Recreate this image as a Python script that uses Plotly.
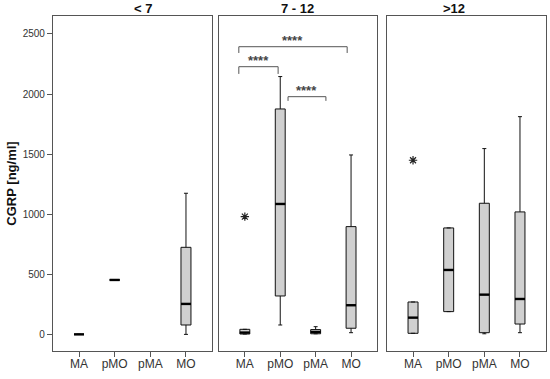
import plotly.graph_objects as go

categories = ["MA", "pMO", "pMA", "MO"]
groups = ["< 7", "7 - 12", ">12"]

# box statistics per age group (None = no data)
g1_q1 = [5, 457, None, 83]
g1_med = [5, 457, None, 258]
g1_q3 = [5, 457, None, 728]
g1_lo = [5, 457, None, 5]
g1_hi = [5, 457, None, 1177]

g2_q1 = [8, 324, 10, 56]
g2_med = [20, 1088, 25, 247]
g2_q3 = [47, 1877, 45, 900]
g2_lo = [8, 83, 10, 19]
g2_hi = [47, 2146, 69, 1495]

g3_q1 = [14, 194, 19, 91]
g3_med = [144, 540, 335, 299]
g3_q3 = [274, 889, 1094, 1022]
g3_lo = [14, 194, 10, 19]
g3_hi = [274, 889, 1548, 1813]

# extreme outliers (group index, category index, value)
out_group = [1, 2]
out_cat = [0, 0]
out_val = [983, 1451]

# significance brackets in group "7 - 12"
br_x0 = [-0.17, -0.17, 1.22]
br_x1 = [2.89, 0.94, 2.29]
br_y = [2394, 2228, 1979]
br_drop = [52, 60, 35]
br_label = ["****", "****", "****"]

stats = [
    (g1_q1, g1_med, g1_q3, g1_lo, g1_hi),
    (g2_q1, g2_med, g2_q3, g2_lo, g2_hi),
    (g3_q1, g3_med, g3_q3, g3_lo, g3_hi),
]

BOXW = 0.28
domains = [[0.0, 0.3225], [0.3367, 0.657], [0.6775, 1.0]]
YR = [-133, 2649]

fig = go.Figure()
for gi, (q1, med, q3, lo, hi) in enumerate(stats):
    xa = "x" if gi == 0 else f"x{gi+1}"
    ya = "y" if gi == 0 else f"y{gi+1}"
    mx, my = [], []
    for ci in range(len(categories)):
        if q1[ci] is None:
            continue
        fig.add_trace(go.Box(
            x=[ci], q1=[q1[ci]], median=[med[ci]], q3=[q3[ci]],
            lowerfence=[lo[ci]], upperfence=[hi[ci]],
            width=BOXW, whiskerwidth=0.4,
            fillcolor="#d0d0d0", line=dict(color="#111111", width=1),
            boxpoints=False, showlegend=False, hoverinfo="skip",
            xaxis=xa, yaxis=ya,
        ))
        mx += [ci - BOXW / 2, ci + BOXW / 2, None]
        my += [med[ci], med[ci], None]
    fig.add_trace(go.Scatter(x=mx, y=my, mode="lines",
                             line=dict(color="black", width=2.4),
                             showlegend=False, hoverinfo="skip",
                             xaxis=xa, yaxis=ya))
    ox = [out_cat[k] for k in range(len(out_val)) if out_group[k] == gi]
    oy = [out_val[k] for k in range(len(out_val)) if out_group[k] == gi]
    if ox:
        fig.add_trace(go.Scatter(x=ox, y=oy, mode="markers",
                                 marker=dict(symbol="asterisk-open", size=7, color="#222",
                                             line=dict(color="#222", width=1.2)),
                                 showlegend=False, hoverinfo="skip",
                                 xaxis=xa, yaxis=ya))

# brackets
bx, by = [], []
for k in range(len(br_y)):
    bx += [br_x0[k], br_x0[k], br_x1[k], br_x1[k], None]
    by += [br_y[k] - br_drop[k], br_y[k], br_y[k], br_y[k] - br_drop[k], None]
    fig.add_annotation(x=(br_x0[k] + br_x1[k]) / 2, y=br_y[k], xref="x2", yref="y2",
                       text=f"<b>{br_label[k]}</b>", showarrow=False, yanchor="bottom",
                       yshift=-3,
                       font=dict(size=13, color="#444", family="Liberation Sans"))
fig.add_trace(go.Scatter(x=bx, y=by, mode="lines", line=dict(color="#555", width=1),
                         showlegend=False, hoverinfo="skip", xaxis="x2", yaxis="y2"))

for gi, g in enumerate(groups):
    fig.add_annotation(x=sum(domains[gi]) / 2, y=1, xref="paper", yref="paper",
                       text=f"<b>{g}</b>", showarrow=False, yanchor="bottom", yshift=-2,
                       font=dict(size=13, color="#111", family="Liberation Sans"))

axis_common = dict(showline=True, mirror=True, linecolor="#555", linewidth=1.2,
                   showgrid=False, zeroline=False)
layout = dict(
    width=550, height=379, plot_bgcolor="white", paper_bgcolor="white",
    margin=dict(l=53, r=4, t=16, b=28),
    font=dict(family="Liberation Sans", color="#333"),
    showlegend=False,
)
for gi in range(3):
    xk = "xaxis" if gi == 0 else f"xaxis{gi+1}"
    yk = "yaxis" if gi == 0 else f"yaxis{gi+1}"
    layout[xk] = dict(axis_common, domain=domains[gi], range=[-0.73, 3.73],
                      tickvals=list(range(len(categories))), ticktext=categories,
                      ticks="outside", ticklen=5, tickcolor="#555",
                      ticklabelstandoff=-4,
                      tickfont=dict(size=12, color="#333"),
                      anchor="y" if gi == 0 else f"y{gi+1}")
    ydict = dict(axis_common, range=YR, anchor="x" if gi == 0 else f"x{gi+1}")
    if gi == 0:
        ydict.update(tickvals=[0, 500, 1000, 1500, 2000, 2500], ticks="outside",
                     ticklen=5, tickcolor="#555", tickfont=dict(size=10, color="#333"),
                     title=dict(text="<b>CGRP [ng/ml]</b>", standoff=3,
                                font=dict(size=13, color="#111")))
    else:
        ydict.update(showticklabels=False, ticks="", matches="y")
    layout[yk] = ydict

fig.update_layout(**layout)
fig.write_html("out.html", config={"displayModeBar": False},
               post_script="document.body.style.margin='0';")
